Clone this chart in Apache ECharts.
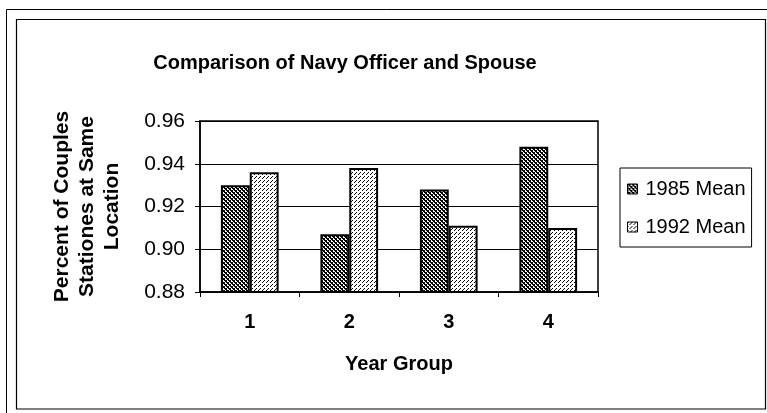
<!DOCTYPE html>
<html><head><meta charset="utf-8">
<script src="https://cdn.jsdelivr.net/npm/echarts@6/dist/echarts.min.js"></script>
<style>html,body{margin:0;padding:0;background:#fff}#c{width:767px;height:413px}</style>
</head><body><div id="c"></div>
<script>
const categories = ['1', '2', '3', '4'];
const mean1985 = [0.930, 0.907, 0.928, 0.948];
const mean1992 = [0.936, 0.938, 0.911, 0.910];
const yTicks = {min: 0.88, max: 0.96, interval: 0.02};

function makePattern(kind) {
  const c = document.createElement('canvas');
  c.width = 4; c.height = 4;
  const g = c.getContext('2d');
  g.fillStyle = '#fff'; g.fillRect(0, 0, 4, 4);
  g.fillStyle = '#000';
  if (kind === 'dark') {
    const px = [[0,0],[1,0],[1,1],[2,1],[2,2],[3,2],[3,3],[0,3],[2,0],[0,2]];
    px.forEach(p => g.fillRect(p[0], p[1], 1, 1));
  } else {
    const px = [[0,0],[2,2],[3,1]];
    px.forEach(p => g.fillRect(p[0], p[1], 1, 1));
  }
  return {image: c, repeat: 'repeat'};
}

const chart = echarts.init(document.getElementById('c'), null, {renderer: 'canvas'});
const font = 'Liberation Sans, Arial, sans-serif';
chart.setOption({
  animation: false,
  backgroundColor: '#fff',
  title: {
    text: 'Comparison of Navy Officer and Spouse',
    left: 340, top: 48, textAlign: 'center',
    textStyle: {fontFamily: font, fontSize: 20, fontWeight: 'bold', color: '#000'}
  },
  legend: {
    orient: 'vertical', left: 620, top: 168,
    padding: [11, 6, 10, 7],
    itemGap: 18, itemWidth: 10, itemHeight: 10, icon: 'rect',
    borderColor: '#000', borderWidth: 1,
    itemStyle: {borderColor: '#000', borderWidth: 1},
    textStyle: {fontFamily: font, fontSize: 20, color: '#000', lineHeight: 18, padding: [0,0,0,3]},
    data: ['1985 Mean', '1992 Mean']
  },
  grid: {left: 200, right: 169, top: 121, bottom: 121, show: true, borderColor: '#000', borderWidth: 1.5, containLabel: false},
  xAxis: {
    type: 'category', data: categories,
    name: 'Year Group', nameLocation: 'middle', nameGap: 62,
    nameTextStyle: {fontFamily: font, fontSize: 20, fontWeight: 'bold', color: '#000'},
    axisLine: {lineStyle: {color: '#000', width: 1.5}},
    axisTick: {show: true, length: 5, lineStyle: {color: '#000'}},
    axisLabel: {margin: 20, fontFamily: font, fontSize: 20, fontWeight: 'bold', color: '#000'}
  },
  yAxis: {
    type: 'value', min: yTicks.min, max: yTicks.max, interval: yTicks.interval,
    name: 'Percent of Couples\nStationes at Same\nLocation', nameLocation: 'middle', nameGap: 75, nameRotate: 90,
    nameTextStyle: {fontFamily: font, fontSize: 21, fontWeight: 'bold', color: '#000', lineHeight: 25, align: 'center'},
    axisLine: {show: true, lineStyle: {color: '#000', width: 1.5}},
    axisTick: {show: true, length: 5, lineStyle: {color: '#000'}},
    splitLine: {show: true, lineStyle: {color: '#000', width: 1}},
    axisLabel: {margin: 15, fontFamily: font, fontSize: 21, color: '#000', formatter: v => v.toFixed(2)}
  },
  series: [
    {name: '1985 Mean', type: 'bar', data: mean1985, barGap: '0%', barCategoryGap: '42%',
     itemStyle: {color: makePattern('dark'), borderColor: '#000', borderWidth: 2}},
    {name: '1992 Mean', type: 'bar', data: mean1992,
     itemStyle: {color: makePattern('light'), borderColor: '#000', borderWidth: 2}}
  ],
  graphic: [
    {type: 'rect', shape: {x: 16.5, y: 19.5, width: 749, height: 389.5}, style: {fill: null, stroke: '#000', lineWidth: 1.2}},
    {type: 'line', shape: {x1: 6.5, y1: 9.5, x2: 6.5, y2: 413}, style: {stroke: '#000', lineWidth: 1}},
    {type: 'line', shape: {x1: 6.5, y1: 9.5, x2: 767, y2: 9.5}, style: {stroke: '#000', lineWidth: 1}}
  ]
});
</script></body></html>
